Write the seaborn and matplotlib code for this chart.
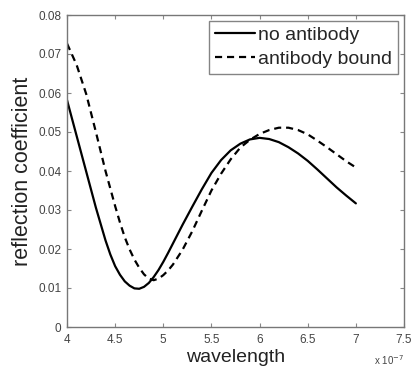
import numpy as np
import pandas as pd
import matplotlib
matplotlib.use("Agg")
import matplotlib.pyplot as plt
import seaborn as sns

# wavelength in units of 1e-7 m
wavelength = [4.0, 4.1, 4.2, 4.3,
              4.40, 4.45, 4.50, 4.55, 4.60, 4.65, 4.70, 4.75, 4.80, 4.85, 4.90, 4.95, 5.00, 5.05, 5.10,
              5.2, 5.3, 5.4, 5.5, 5.6, 5.7, 5.8, 5.9, 6.0, 6.1, 6.2, 6.3, 6.4, 6.5, 6.6, 6.7, 6.8, 6.9, 7.0]
no_antibody = [0.0582, 0.0490, 0.0398, 0.0306,
               0.0222, 0.0186, 0.0156, 0.0134, 0.0117, 0.0106, 0.0099, 0.0098, 0.0103, 0.0113, 0.0128,
               0.0146, 0.0167, 0.0190, 0.0214,
               0.0262, 0.0308, 0.0353, 0.0395, 0.0428, 0.0453, 0.0470, 0.0481, 0.0485, 0.0482, 0.0474,
               0.0461, 0.0445, 0.0426, 0.0404, 0.0381, 0.0358, 0.0337, 0.0317]
antibody_bound = [0.0727, 0.0672, 0.0597, 0.0500,
                  0.0400, 0.0355, 0.0310, 0.0268, 0.0230, 0.0199, 0.0173, 0.0152, 0.0135, 0.0124, 0.0120,
                  0.0124, 0.0133, 0.0145, 0.0160,
                  0.0198, 0.0245, 0.0298, 0.0350, 0.0393, 0.0430, 0.0460, 0.0480, 0.0495, 0.0505, 0.0511,
                  0.0511, 0.0505, 0.0494, 0.0478, 0.0461, 0.0443, 0.0425, 0.0409]
series_labels = ["no antibody", "antibody bound"]
x_ticks = [4, 4.5, 5, 5.5, 6, 6.5, 7, 7.5]
x_tick_labels = ["4", "4.5", "5", "5.5", "6", "6.5", "7", "7.5"]
y_ticks = [0, 0.01, 0.02, 0.03, 0.04, 0.05, 0.06, 0.07, 0.08]
y_tick_labels = ["0", "0.01", "0.02", "0.03", "0.04", "0.05", "0.06", "0.07", "0.08"]

df = pd.DataFrame({
    "wavelength": wavelength * 2,
    "reflection": no_antibody + antibody_bound,
    "series": [series_labels[0]] * len(wavelength) + [series_labels[1]] * len(wavelength),
})

sns.set_style("white")
plt.rcParams['font.family'] = ['Liberation Sans', 'DejaVu Sans']

fig = plt.figure(figsize=(4.11, 3.67), dpi=100)
ax = fig.add_axes([67/411, 40/367, (404-67)/411, (327-15)/367])

sns.lineplot(data=df, x="wavelength", y="reflection", hue="series", style="series",
             palette=["black", "black"], dashes={series_labels[0]: "", series_labels[1]: (3.2, 2.2)},
             linewidth=1.6, ax=ax, legend=True)

ax.set_xlim(4, 7.5)
ax.set_ylim(0, 0.08)
ax.set_xticks(x_ticks)
ax.set_xticklabels(x_tick_labels)
ax.set_yticks(y_ticks)
ax.set_yticklabels(y_tick_labels)

for s in ax.spines.values():
    s.set_color("#777777")
    s.set_linewidth(1.0)
    s.set_visible(True)
ax.tick_params(axis="both", which="both", direction="in", length=3, width=0.8,
               colors="#888888", labelcolor="#444444", labelsize=8.5,
               top=True, right=True, bottom=True, left=True)
ax.tick_params(axis="x", pad=5)
ax.tick_params(axis="y", pad=4)

ax.set_xlabel("wavelength", fontsize=14, color="#222222", labelpad=2)
ax.set_ylabel("reflection coefficient", fontsize=15.5, color="#222222", labelpad=4)

ax.text(1.0, -0.105, "x 10$^{-7}$", transform=ax.transAxes, fontsize=7,
        color="#444444", ha="right", va="center")

leg = ax.legend(loc="upper right", fontsize=14, frameon=True, fancybox=False,
                handlelength=2.1, handletextpad=0.15, labelspacing=0.3,
                borderpad=0.3, borderaxespad=0.3, title=None)
leg.get_frame().set_edgecolor("#666666")
leg.get_frame().set_linewidth(1.0)

fig.savefig("out.png", dpi=100)
